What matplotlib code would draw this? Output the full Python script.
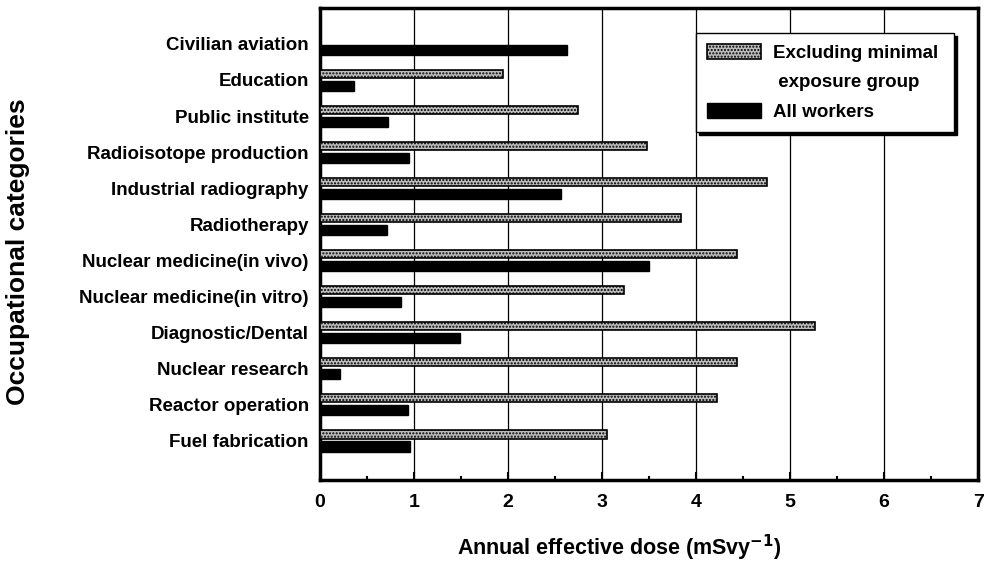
import numpy as np
import matplotlib.pyplot as plt
from matplotlib.patches import Patch
from matplotlib.ticker import MultipleLocator

categories = ['Civilian aviation', 'Education', 'Public institute',
              'Radioisotope production', 'Industrial radiography', 'Radiotherapy',
              'Nuclear medicine(in vivo)', 'Nuclear medicine(in vitro)',
              'Diagnostic/Dental', 'Nuclear research', 'Reactor operation',
              'Fuel fabrication']

# excluding minimal exposure group
dose_excl = np.array([0.0, 1.95, 2.75, 3.48, 4.75, 3.84, 4.44, 3.23, 5.27, 4.44, 4.22, 3.05])
# all workers
dose_all = np.array([2.63, 0.36, 0.73, 0.95, 2.56, 0.71, 3.50, 0.86, 1.49, 0.22, 0.94, 0.96])

plt.rcParams['font.family'] = ['Liberation Sans', 'DejaVu Sans']
plt.rcParams['font.weight'] = 'bold'

fig = plt.figure(figsize=(9.87, 5.66), dpi=100)
ax = fig.add_axes([0.324, 0.152, 0.667, 0.834])

y = np.arange(len(categories))
b1 = ax.barh(y - 0.17, dose_excl, height=0.24, color='#bdbdbd', edgecolor='black',
             linewidth=1.2, hatch='.....', zorder=3)
b2 = ax.barh(y + 0.17, dose_all, height=0.28, color='black', edgecolor='black', zorder=3)

ax.set_xlim(0, 7)
ax.set_ylim(len(categories) + 0.1, -1.0)
ax.set_yticks(y)
ax.set_yticklabels(categories, fontsize=13.5, fontweight='bold')
ax.xaxis.set_major_locator(MultipleLocator(1))
ax.xaxis.set_minor_locator(MultipleLocator(0.5))
ax.tick_params(axis='x', which='both', direction='in', labelsize=14, pad=10)
ax.tick_params(axis='x', which='major', length=6, width=1.5)
ax.tick_params(axis='x', which='minor', length=3, width=1.5)
ax.tick_params(axis='y', length=0, pad=8)
ax.grid(axis='x', color='black', linewidth=0.9, zorder=0)
for sp in ax.spines.values():
    sp.set_linewidth(2.5)

ax.set_xlabel('Annual effective dose (mSvy$^{\\mathbf{-1}}$)', fontsize=15.5,
              fontweight='bold')
ax.xaxis.set_label_coords(0.455, -0.112)
ax.set_ylabel('Occupational categories', fontsize=19, fontweight='bold')
ax.yaxis.set_label_coords(-0.44, 0.484)

# second line of the first legend label has no patch of its own
blank = Patch(visible=False)
leg = ax.legend([b1, blank, b2],
                ['Excluding minimal ', ' exposure group', 'All workers'],
                loc='upper right', bbox_to_anchor=(0.964, 0.947), fancybox=False,
                shadow={'color': 'black', 'alpha': 1}, framealpha=1, edgecolor='black',
                fontsize=13.5, handlelength=2.9, handleheight=0.85, handletextpad=0.6,
                borderpad=0.6, labelspacing=0.6, borderaxespad=0)
leg.get_frame().set_linewidth(1)

fig.savefig('out.png', dpi=100)
